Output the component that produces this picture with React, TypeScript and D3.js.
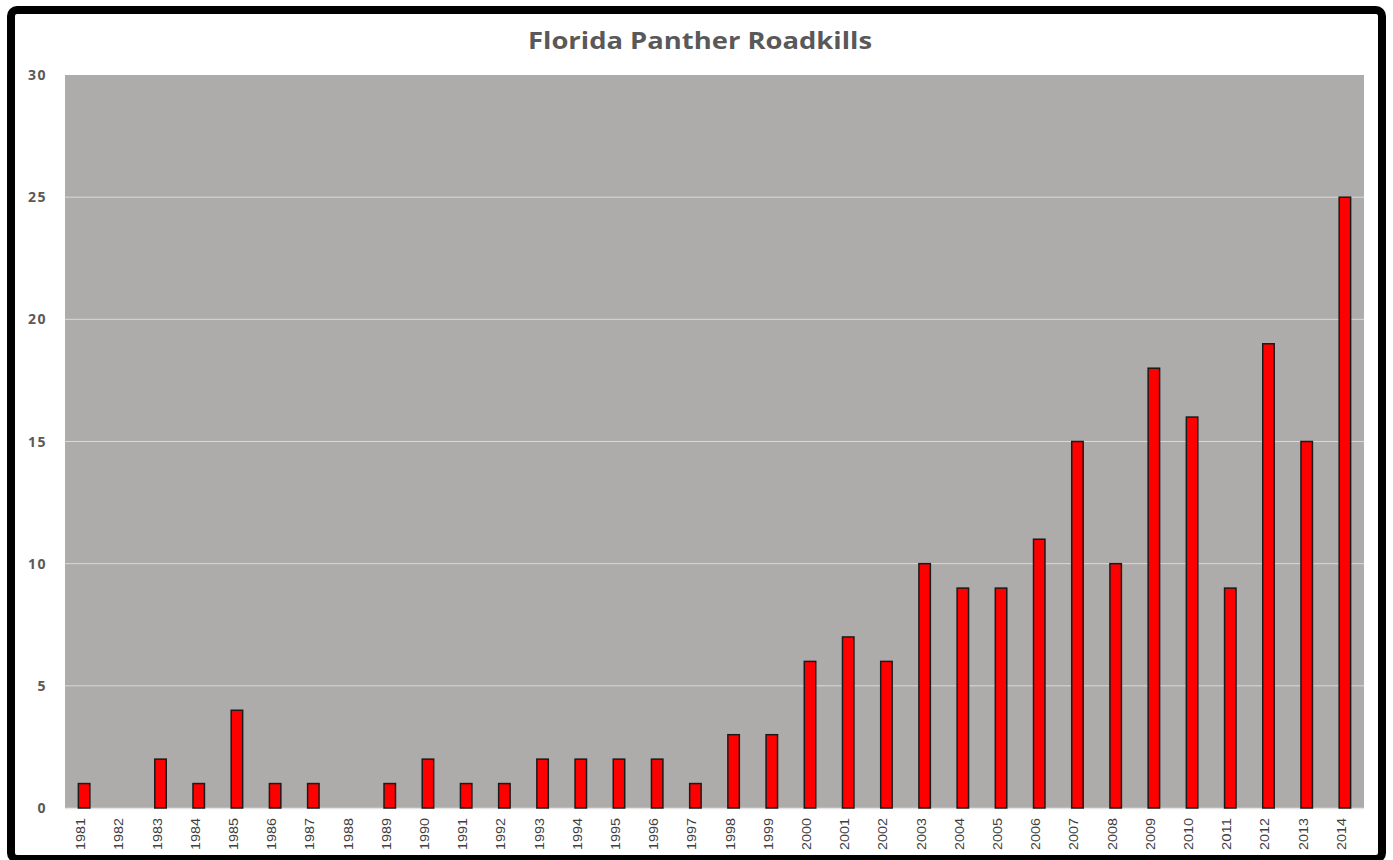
import React, { useEffect, useRef } from 'react';
import * as d3 from 'd3';

const years = [
  '1981', '1982', '1983', '1984', '1985', '1986', '1987', '1988', '1989', '1990',
  '1991', '1992', '1993', '1994', '1995', '1996', '1997', '1998', '1999', '2000',
  '2001', '2002', '2003', '2004', '2005', '2006', '2007', '2008', '2009', '2010',
  '2011', '2012', '2013', '2014',
];
const roadkills = [
  1, 0, 2, 1, 4, 1, 1, 0, 1, 2,
  1, 1, 2, 2, 2, 2, 1, 3, 3, 6,
  7, 6, 10, 9, 9, 11, 15, 10, 18, 16,
  9, 19, 15, 25,
];
const yTicks = [0, 5, 10, 15, 20, 25, 30];

const W = 1393;
const H = 860;

const App: React.FC = () => {
  const ref = useRef<SVGSVGElement | null>(null);

  useEffect(() => {
    const svg = d3.select(ref.current);
    svg.selectAll('*').remove();
    const margin = { top: 75, right: 29, bottom: 52, left: 65 };

    // frame
    svg.append('rect')
      .attr('x', 11).attr('y', 10)
      .attr('width', 1371).attr('height', 849)
      .attr('rx', 6)
      .attr('fill', '#fff')
      .attr('stroke', '#000')
      .attr('stroke-width', 8);

    const x = d3.scaleBand<string>()
      .domain(years)
      .range([margin.left, W - margin.right])
      .paddingInner(0.7)
      .paddingOuter(0.35);

    const y = d3.scaleLinear()
      .domain([0, 30])
      .range([H - margin.bottom, margin.top]);

    svg.append('rect')
      .attr('x', margin.left).attr('y', margin.top)
      .attr('width', W - margin.right - margin.left)
      .attr('height', y(0) - margin.top)
      .attr('fill', '#adacaa');

    // gridlines
    svg.append('g')
      .selectAll('line')
      .data(yTicks.slice(1, -1))
      .join('line')
      .attr('x1', margin.left).attr('x2', W - margin.right)
      .attr('y1', d => y(d)).attr('y2', d => y(d))
      .attr('stroke', '#d9d9d9').attr('stroke-width', 1);

    svg.append('line')
      .attr('x1', margin.left).attr('x2', W - margin.right)
      .attr('y1', y(0) + 0.5).attr('y2', y(0) + 0.5)
      .attr('stroke', '#e6e6e6').attr('stroke-width', 1.5);

    // bars
    svg.append('g')
      .selectAll('rect')
      .data(roadkills)
      .join('rect')
      .attr('x', (_, i) => x(years[i]) as number)
      .attr('width', x.bandwidth())
      .attr('y', d => y(d))
      .attr('height', d => y(0) - y(d))
      .attr('fill', '#ff0000')
      .attr('stroke', d => (d > 0 ? '#1a1a1a' : 'none'))
      .attr('stroke-width', 1.5);

    // y axis labels
    svg.append('g')
      .selectAll('text')
      .data(yTicks)
      .join('text')
      .attr('x', 47)
      .attr('y', d => y(d) + 5)
      .attr('text-anchor', 'end')
      .attr('font-family', '"Open Sans", sans-serif')
      .attr('font-weight', 700)
      .attr('font-size', 14)
      .attr('letter-spacing', 1.5)
      .attr('fill', '#595959')
      .text(d => d);

    // x axis labels
    svg.append('g')
      .selectAll('text')
      .data(years)
      .join('text')
      .attr('transform', d => `translate(${(x(d) as number) + x.bandwidth() / 2 + 1},818) rotate(-90)`)
      .attr('text-anchor', 'end')
      .attr('font-family', '"Liberation Sans", Arial, sans-serif')
      .attr('font-size', 13)
      .attr('textLength', 32)
      .attr('lengthAdjust', 'spacingAndGlyphs')
      .attr('fill', '#404040')
      .text(d => d);

    // title
    svg.append('text')
      .attr('x', 700)
      .attr('y', 49)
      .attr('text-anchor', 'middle')
      .attr('font-family', '"Open Sans", sans-serif')
      .attr('font-weight', 700)
      .attr('font-size', 23)
      .attr('textLength', 344)
      .attr('lengthAdjust', 'spacingAndGlyphs')
      .attr('fill', '#595959')
      .text('Florida Panther Roadkills');
  }, []);

  return (
    <div style={{ position: 'absolute', left: 0, top: 0 }}>
      <svg ref={ref} width={W} height={H} style={{ display: 'block' }} />
    </div>
  );
};

export default App;
